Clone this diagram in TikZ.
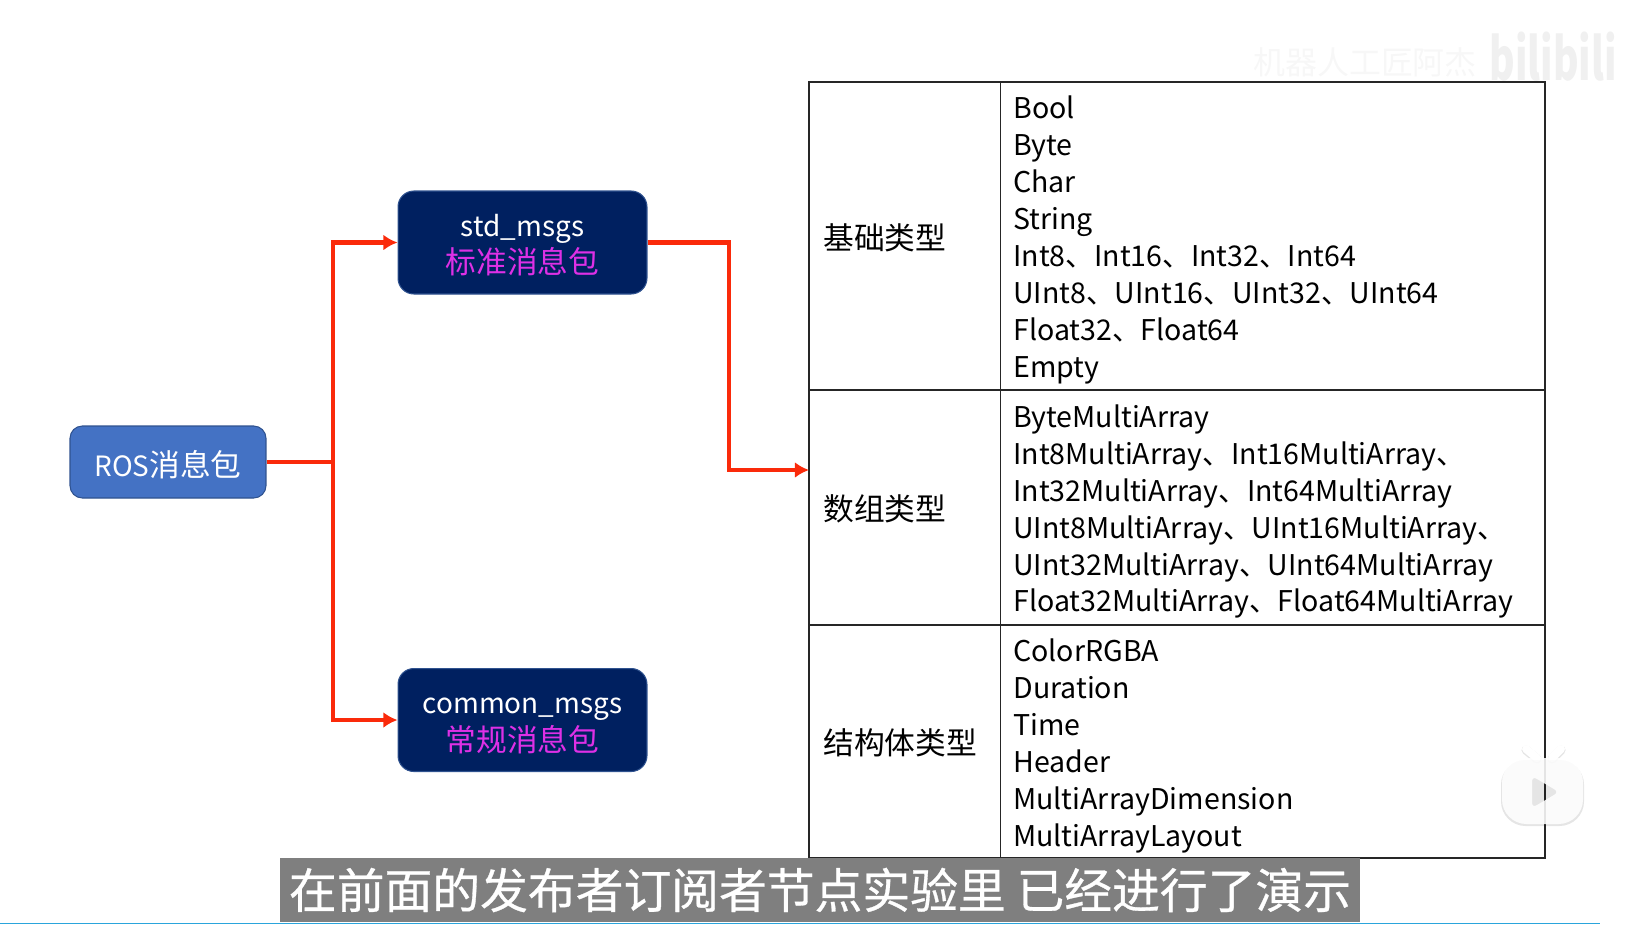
\documentclass[tikz,border=0pt]{standalone}
\usepackage{fontspec}
\setmainfont{Noto Sans CJK SC}
\newfontfamily\capfont{Noto Sans CJK SC}[FakeBold=0.6]
\usepackage{xcolor}
\usepackage{tikz}
\usetikzlibrary{calc}
\usetikzlibrary{arrows.meta}
\definecolor{rosblue}{HTML}{4472C4}
\definecolor{navybox}{HTML}{002060}
\definecolor{boxedge}{HTML}{2F528F}
\definecolor{msgpink}{HTML}{DE30E6}
\definecolor{linkred}{HTML}{FA2A0A}
\definecolor{capgray}{HTML}{7F7F7F}
\definecolor{barblue}{HTML}{2AA5DC}
\newcommand{\boxlatin}{\fontsize{15.9}{21.2}\selectfont}
\tikzset{
    pkgbox/.style={draw=boxedge,line width=0.6pt,fill=#1,rounded corners=9pt,text=white,align=center,inner sep=0pt,font=\fontsize{17.5}{21.2}\selectfont},
    cellbox/.style={draw=black!85,line width=0.9pt},
    typetext/.style={anchor=west,align=left,inner sep=0pt,font=\fontsize{16.25}{21.05}\selectfont},
    nametext/.style={anchor=west,inner sep=0pt,font=\fontsize{17.5}{21}\selectfont},
    link/.style={draw=linkred,line width=2.4pt},
    linkto/.style={link,-{Latex[length=8pt,width=9pt]}},
}

\begin{document}
\begin{tikzpicture}[x=0.02cm,y=-0.02cm]
            \useasboundingbox (0,0) rectangle (1631,924);

            % Packages
            \node[pkgbox=rosblue,minimum width=3.92cm,minimum height=1.44cm,rounded corners=7pt] (ros) at (168,462) {\rule{0pt}{18pt}{\boxlatin ROS}消息包};
            \node[pkgbox=navybox,minimum width=4.98cm,minimum height=2.06cm] (std) at (522.5,242.5) {\rule{0pt}{15.7pt}{\boxlatin std\_msgs}\\\textcolor{msgpink}{标准消息包}};
            \node[pkgbox=navybox,minimum width=4.98cm,minimum height=2.06cm] (common) at (522.5,720) {\rule{0pt}{15.7pt}{\boxlatin common\_msgs}\\\textcolor{msgpink}{常规消息包}};

            % Table
            \foreach \name/\top/\bot in {basic/82/390,array/390/625,struct/625/858}
            {
            \draw[cellbox] (809,\top) rectangle (1000.5,\bot);
            \draw[cellbox] (1000.5,\top) rectangle (1545,\bot);
            \coordinate (\name-r) at (1013,{(\top+\bot)/2+4});
            }
            \node[nametext] (basicname) at (823,238) {基础类型};
            \node[nametext] (arrayname) at (823,509) {数组类型};
            \node[nametext] (structname) at (823,743) {结构体类型};
            \node[typetext] (basictypes) at (basic-r) {Bool\\Byte\\Char\\String\\Int8、Int16、Int32、Int64\\UInt8、UInt16、UInt32、UInt64\\Float32、Float64\\Empty};
            \node[typetext] (arraytypes) at (array-r) {ByteMultiArray\\Int8MultiArray、Int16MultiArray、\\Int32MultiArray、Int64MultiArray\\UInt8MultiArray、UInt16MultiArray、\\UInt32MultiArray、UInt64MultiArray\\Float32MultiArray、Float64MultiArray};
            \node[typetext] (structtypes) at (struct-r) {ColorRGBA\\Duration\\Time\\Header\\MultiArrayDimension\\MultiArrayLayout};

            % Links
            \coordinate (trunk) at (333,462);
            \coordinate (elbow) at (729,470);
            \coordinate (arrayin) at (809,470);
            \draw[link] (ros.east) -- (trunk);
            \draw[linkto] (trunk) |- (std.west);
            \draw[linkto] (trunk) |- (common.west);
            \draw[linkto] (std.east) -| (elbow) -- (arrayin);

            % Watermark
            \node[text=black!3,font=\fontsize{18.2}{20}\selectfont,inner sep=0pt] (mark) at (1365,62) {机器人工匠阿杰};
            \node[text=black!6,font=\fontsize{22.2}{24}\selectfont\bfseries,inner sep=0pt,yscale=1.5] (logo) at (1553,57) {bilibili};

            % Play button
            \draw[black!10,line width=5.2pt,line cap=round] (1537,759) -- (1526,750) (1552,759) -- (1561,750);
            \draw[white,line width=4.5pt,line cap=round] (1537,758) -- (1526,749) (1552,758) -- (1561,749);
            \fill[black,opacity=0.1,rounded corners=14pt] (1501,760) rectangle (1584,826);
            \fill[white,opacity=0.88,even odd rule,rounded corners=14pt] (1502,758) rectangle (1583,824)
                [rounded corners=3pt] (1532,776) -- (1559,792) -- (1532,808) -- cycle;

            % Caption
            \node[fill=capgray,text=white,minimum width=21.6cm,minimum height=1.28cm,inner sep=0pt,font=\capfont\fontsize{27.2}{30}\selectfont] (caption) at (820,890) {在前面的发布者订阅者节点实验里 已经进行了演示};
            \draw[barblue,line width=0.6pt] (0,923.5) -- (1600,923.5);
        \end{tikzpicture}
\end{document}
